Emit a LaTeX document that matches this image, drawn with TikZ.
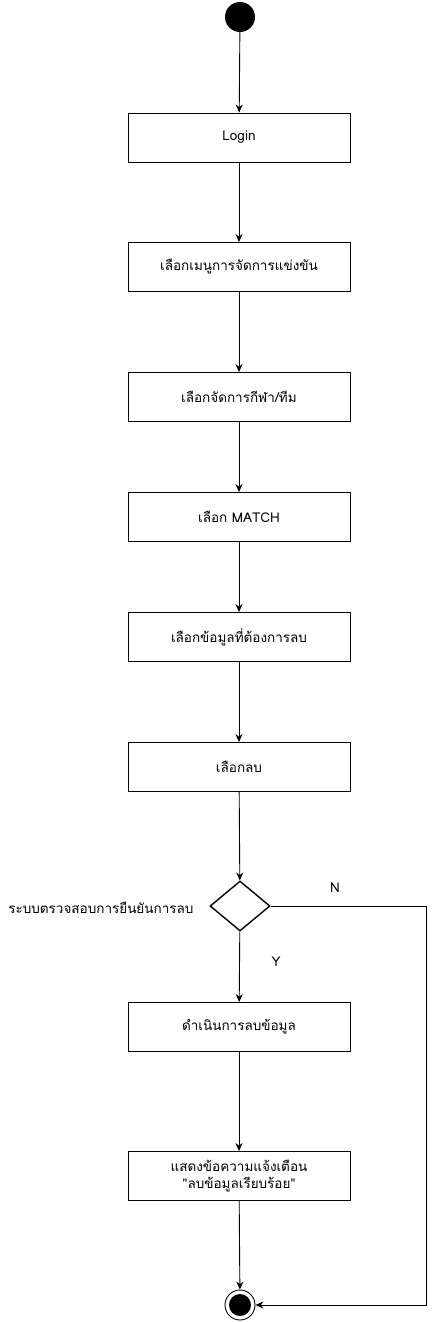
\documentclass[tikz,border=0pt]{standalone}
\usepackage{fontspec}
\newfontfamily\thaifont[Script=Thai]{Loma}
\usetikzlibrary{shapes.geometric,arrows.meta}
\begin{document}
\begin{tikzpicture}[x=1pt,y=-1pt,
  actbox/.style={draw,line width=0.9pt,minimum width=222pt,minimum height=49pt,inner sep=0pt,align=center,font=\thaifont\fontsize{13.5pt}{17pt}\selectfont},
  flow/.style={-{Stealth[length=8pt,width=7pt]},line width=0.9pt},
  lbl/.style={font=\thaifont\fontsize{13.5pt}{16pt}\selectfont}]
\useasboundingbox (0,0) rectangle (434,1322);
\node[circle,fill=black,minimum size=30pt,inner sep=0pt] (start) at (240,17) {};
\node[actbox] (login) at (239,137.5) {Login};
\node[actbox] (menu) at (239,267) {เลือกเมนูการจัดการแข่งขัน};
\node[actbox] (sport) at (239,397) {เลือกจัดการกีฬา/ทีม};
\node[actbox] (match) at (239,517) {เลือก MATCH};
\node[actbox] (data) at (239,637) {เลือกข้อมูลที่ต้องการลบ};
\node[actbox] (del) at (239,767) {เลือกลบ};
\node[diamond,draw,line width=1.4pt,minimum width=60pt,minimum height=50pt,inner sep=0pt,aspect=1.2] (dec) at (240,906) {};
\node[lbl,anchor=east] (declbl) at (197,908) {ระบบตรวจสอบการยืนยันการลบ};
\node[lbl] (nlbl) at (335,888) {N};
\node[lbl] (ylbl) at (276,962) {Y};
\node[actbox] (do) at (239,1027) {ดำเนินการลบข้อมูล};
\node[actbox] (msg) at (239,1176) {แสดงข้อความแจ้งเตือน\\"ลบข้อมูลเรียบร้อย"};
\node[circle,draw,line width=0.9pt,minimum size=30pt,inner sep=0pt] (end) at (240,1305) {};
\node[circle,fill=black,minimum size=22pt,inner sep=0pt] (endin) at (240,1305) {};
\coordinate (c1) at (426,906);
\coordinate (c2) at (426,1305);
\draw[flow] (start) -- (login);
\draw[flow] (login) -- (menu);
\draw[flow] (menu) -- (sport);
\draw[flow] (sport) -- (match);
\draw[flow] (match) -- (data);
\draw[flow] (data) -- (del);
\draw[flow] (del) -- (dec);
\draw[flow] (dec) -- (do);
\draw[flow] (do) -- (msg);
\draw[flow] (msg) -- (end);
\draw[flow] (dec.east) -- (c1) -- (c2) -- (end.east);
\end{tikzpicture}
\end{document}
